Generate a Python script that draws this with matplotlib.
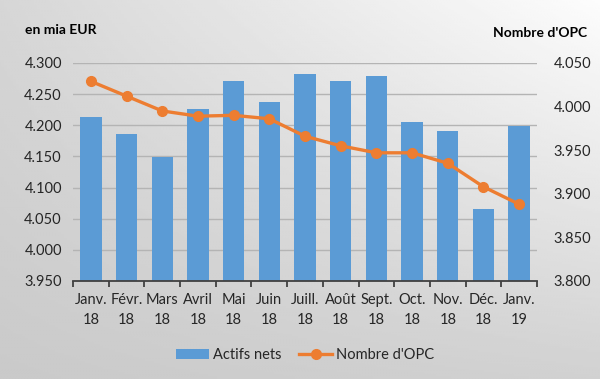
import numpy as np
import matplotlib.pyplot as plt

# données
mois = ['Janv.\n18', 'Févr.\n18', 'Mars\n18', 'Avril\n18', 'Mai\n18', 'Juin\n18', 'Juill.\n18',
        'Août\n18', 'Sept.\n18', 'Oct.\n18', 'Nov.\n18', 'Déc.\n18', 'Janv.\n19']
actifs_nets = [4.213, 4.186, 4.149, 4.226, 4.271, 4.237, 4.282, 4.271, 4.279, 4.206, 4.191, 4.065, 4.199]
nombre_opc = [4.029, 4.012, 3.995, 3.989, 3.990, 3.986, 3.966, 3.955, 3.947, 3.947, 3.935, 3.908, 3.888]

left_ticks = [3.95, 4.0, 4.05, 4.1, 4.15, 4.2, 4.25, 4.3]
right_ticks = [3.8, 3.85, 3.9, 3.95, 4.0, 4.05]

bar_color = '#5B9BD5'
line_color = '#ED7D31'
text_color = '#262626'

plt.rcParams['font.family'] = ['Lato', 'DejaVu Sans']

fig = plt.figure(figsize=(6, 3.79), dpi=100)

# fond en dégradé
bg = fig.add_axes([0, 0, 1, 1], zorder=-10)
u, v = np.meshgrid(np.linspace(0, 1, 200), np.linspace(0, 1, 200))
shade = 0.79 + 0.03 * u + 0.05 * v + 0.12 * u * v
bg.imshow(shade, cmap='gray', vmin=0, vmax=1, origin='lower', extent=[0, 1, 0, 1], aspect='auto')
bg.axis('off')

ax = fig.add_axes([0.1217, 0.2586, 0.7733, 0.5752])
ax.set_facecolor('none')
x = np.arange(len(mois))
ax.bar(x, actifs_nets, width=0.6, color=bar_color, zorder=2, label='Actifs nets')
ax.set_ylim(3.95, 4.30)
ax.set_xlim(-0.5, len(mois) - 0.5)
ax.set_yticks(left_ticks)
ax.set_yticklabels([f'{t:.3f}' for t in left_ticks], fontsize=10.5, color=text_color)
ax.yaxis.grid(True, color='#B4B4B4', linewidth=1, zorder=0)
ax.set_axisbelow(True)
for s in ['left', 'right', 'top']:
    ax.spines[s].set_visible(False)
ax.spines['bottom'].set_color('#404040')
ax.spines['bottom'].set_linewidth(1.3)
ax.spines['bottom'].set_zorder(5)
ax.tick_params(axis='y', length=0, pad=8)
ax.set_xticks(x)
ax.set_xticklabels(mois, fontsize=10.5, color=text_color, linespacing=1.5)
ax.set_xticks(np.arange(-0.5, len(mois)), minor=True)
ax.tick_params(axis='x', which='major', length=0, pad=9)
ax.tick_params(axis='x', which='minor', length=4, width=1.3, color='#404040', direction='out')

ax2 = ax.twinx()
ax2.plot(x, nombre_opc, color=line_color, linewidth=2.4, marker='o', markersize=7, zorder=3,
         label="Nombre d'OPC")
ax2.set_ylim(3.80, 4.05)
ax2.set_yticks(right_ticks)
ax2.set_yticklabels([f'{t:.3f}' for t in right_ticks], fontsize=10.5, color=text_color)
ax2.tick_params(axis='y', length=0, pad=12)
for s in ['left', 'right', 'top', 'bottom']:
    ax2.spines[s].set_visible(False)

fig.text(0.042, 0.92, 'en mia EUR', fontsize=10, fontweight='bold', color='black', va='center')
fig.text(0.978, 0.912, "Nombre d'OPC", fontsize=10, fontweight='bold', color='black', va='center', ha='right')

h1, l1 = ax.get_legend_handles_labels()
h2, l2 = ax2.get_legend_handles_labels()
fig.legend(h1 + h2, l1 + l2, loc='center', bbox_to_anchor=(0.508, 0.063), ncol=2, frameon=False,
           fontsize=10.5, handlelength=2.3, columnspacing=1.2, handletextpad=0.25, labelcolor=text_color)

fig.savefig('out.png', dpi=100)
